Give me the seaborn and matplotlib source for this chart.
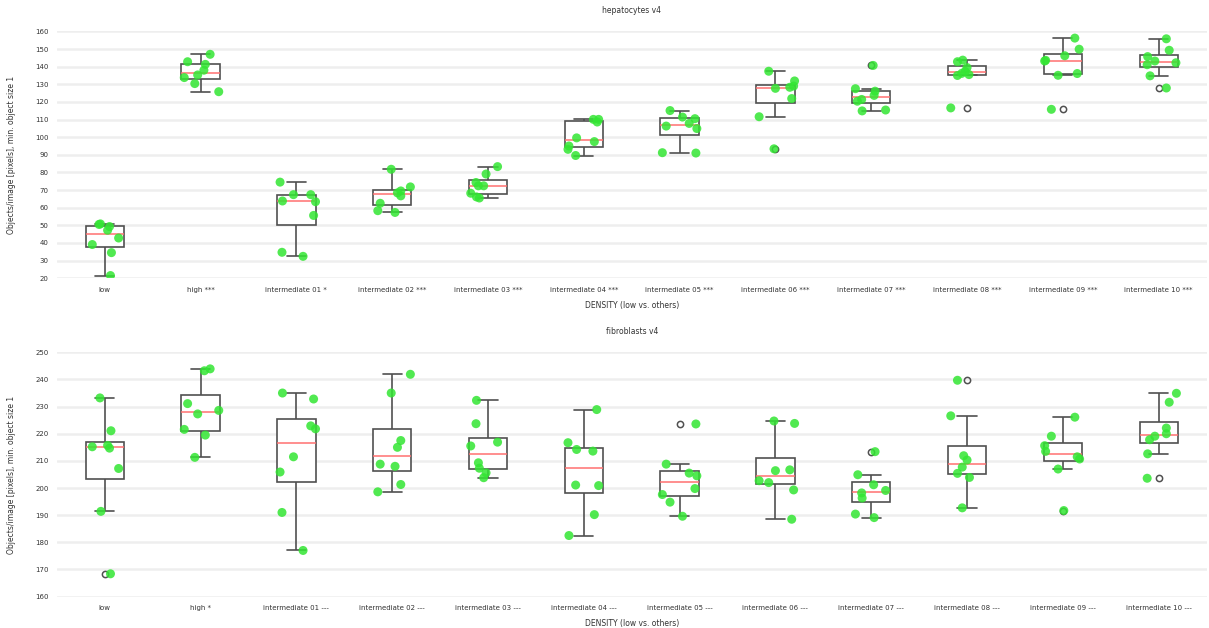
import warnings
warnings.filterwarnings("ignore")

import numpy as np
import pandas as pd
import matplotlib
matplotlib.use("Agg")
import matplotlib.pyplot as plt
import seaborn as sns

# ── Data ──────────────────────────────────────────────────────────────────────
hep_labels = ["low", "high ***", "intermediate 01 *"] + \
    [f"intermediate {i:02d} ***" for i in range(2, 11)]
fib_labels = ["low", "high *"] + [f"intermediate {i:02d} ---" for i in range(1, 11)]

hep_values = [
    [50.8, 50.5, 49.3, 47.2, 42.8, 39.1, 34.5, 21.5],
    [147.0, 142.8, 141.3, 138.0, 135.3, 133.8, 130.4, 125.8],
    [74.5, 67.4, 67.4, 63.8, 63.4, 55.6, 34.7, 32.4],
    [81.8, 71.8, 69.5, 68.4, 66.7, 62.5, 58.3, 57.3],
    [83.3, 79.1, 74.3, 72.4, 72.4, 68.2, 66.1, 65.5],
    [110.1, 110.1, 108.6, 99.6, 97.5, 95.0, 93.1, 89.6],
    [115.1, 111.4, 110.5, 107.8, 106.3, 104.9, 91.2, 91.0],
    [137.4, 131.9, 129.0, 128.3, 127.7, 121.9, 111.6, 93.4],
    [140.7, 127.5, 126.1, 123.7, 121.4, 120.4, 115.4, 114.9],
    [143.7, 142.8, 139.5, 137.3, 136.2, 135.5, 135.0, 116.6],
    [156.2, 149.9, 146.2, 143.6, 143.2, 136.1, 135.1, 115.8],
    [155.8, 149.3, 145.7, 143.2, 142.2, 141.1, 134.8, 127.9],
]
hep_jitter = [
    [-0.045, -0.06, 0.05, 0.03, 0.145, -0.13, 0.07, 0.06],
    [0.10, -0.135, 0.05, 0.035, -0.03, -0.17, -0.06, 0.19],
    [-0.17, -0.03, 0.15, -0.145, 0.20, 0.18, -0.15, 0.07],
    [-0.01, 0.19, 0.09, 0.055, 0.09, -0.125, -0.15, 0.03],
    [0.10, -0.02, -0.125, -0.10, -0.045, -0.18, -0.12, -0.09],
    [0.10, 0.155, 0.14, -0.075, 0.11, -0.155, -0.165, -0.085],
    [-0.10, 0.03, 0.16, 0.10, -0.14, 0.18, -0.18, 0.17],
    [-0.07, 0.20, 0.19, 0.15, 0.0, 0.17, -0.17, -0.015],
    [0.02, -0.165, 0.04, 0.03, -0.10, -0.145, 0.15, -0.095],
    [-0.045, -0.10, 0.0, -0.02, -0.055, 0.02, -0.10, -0.17],
    [0.125, 0.17, 0.02, -0.18, -0.19, 0.15, -0.05, -0.12],
    [0.08, 0.11, -0.115, -0.04, 0.18, -0.12, -0.09, 0.08],
]

fib_values = [
    [233.2, 221.1, 215.7, 215.2, 214.7, 207.2, 191.4, 168.4],
    [243.9, 243.2, 231.1, 228.6, 227.3, 221.6, 219.5, 211.3],
    [235.0, 232.8, 222.9, 221.8, 211.5, 205.9, 191.0, 177.0],
    [241.9, 235.0, 217.5, 215.0, 208.8, 208.0, 201.3, 198.6],
    [232.3, 223.7, 216.9, 215.5, 209.3, 207.3, 205.6, 203.8],
    [228.9, 216.7, 214.2, 213.6, 201.1, 200.9, 190.2, 182.5],
    [223.6, 208.8, 205.5, 204.5, 199.8, 197.6, 194.8, 189.6],
    [224.7, 223.8, 206.7, 206.4, 202.7, 202.0, 199.3, 188.5],
    [213.4, 204.9, 201.2, 199.1, 198.2, 196.3, 190.4, 189.1],
    [239.7, 226.6, 211.9, 210.3, 207.7, 205.4, 203.9, 192.7],
    [226.1, 219.1, 215.6, 213.5, 211.5, 210.7, 207.0, 191.7],
    [234.9, 231.6, 222.1, 220.0, 219.1, 217.8, 212.6, 203.6],
]
fib_jitter = [
    [-0.05, 0.065, 0.03, -0.13, 0.05, 0.145, -0.04, 0.06],
    [0.10, 0.04, -0.135, 0.19, -0.03, -0.17, 0.05, -0.06],
    [-0.145, 0.18, 0.15, 0.20, -0.03, -0.17, -0.15, 0.07],
    [0.19, -0.01, 0.09, 0.055, -0.125, 0.03, 0.09, -0.15],
    [-0.12, -0.125, 0.10, -0.18, -0.10, -0.09, -0.02, -0.045],
    [0.135, -0.165, -0.075, 0.095, -0.085, 0.155, 0.11, -0.155],
    [0.17, -0.14, 0.10, 0.18, 0.16, -0.18, -0.10, 0.03],
    [-0.015, 0.20, 0.15, 0.0, -0.17, -0.07, 0.19, 0.17],
    [0.04, -0.14, 0.025, 0.15, -0.10, -0.095, -0.165, 0.03],
    [-0.10, -0.17, -0.035, 0.0, -0.05, -0.10, 0.025, -0.05],
    [0.125, -0.12, -0.19, -0.18, 0.15, 0.175, -0.05, 0.01],
    [0.185, 0.11, 0.08, 0.08, -0.04, -0.095, -0.115, -0.12],
]

panels = [
    ("hepatocytes v4", hep_labels, hep_values, hep_jitter, (20, 160), 10),
    ("fibroblasts v4", fib_labels, fib_values, fib_jitter, (160, 250), 10),
]

# ── Style ─────────────────────────────────────────────────────────────────────
sns.set_theme(style="white")
plt.rcParams["font.family"] = ["DejaVu Sans"]
TEXT = "#333333"
GREEN = "#33e633"
LINE = "#505050"

fig = plt.figure(figsize=(12.09, 6.28), dpi=100)
axes = [
    fig.add_axes([0.047, 0.557, 0.951, 0.393]),
    fig.add_axes([0.047, 0.050, 0.951, 0.389]),
]

for ax, (title, labels, values, jitter, ylim, step) in zip(axes, panels):
    rows = []
    for i, (lab, vals, jit) in enumerate(zip(labels, values, jitter)):
        for v, j in zip(vals, jit):
            rows.append({"group": lab, "value": v, "pos": i + j})
    df = pd.DataFrame(rows)

    sns.boxplot(
        data=df, x="group", y="value", order=labels, ax=ax,
        width=0.4, color="white", saturation=1, linecolor=LINE, linewidth=1.2,
        medianprops=dict(color="#ff7070", linewidth=1.1),
        flierprops=dict(marker="o", markerfacecolor="none",
                        markeredgecolor=LINE, markersize=4.5, markeredgewidth=1.1),
    )
    sns.scatterplot(
        data=df, x="pos", y="value", ax=ax, color=GREEN, alpha=0.85,
        s=42, edgecolor="none", legend=False, zorder=5,
    )

    ax.set_xlim(-0.5, len(labels) - 0.5)
    ax.set_ylim(*ylim)
    ax.set_xticks(range(len(labels)))
    ax.set_xticklabels(labels)
    ax.set_yticks(np.arange(ylim[0], ylim[1] + 1, step))
    ax.yaxis.grid(True, color="#eeeeee", linewidth=1.8)
    ax.set_axisbelow(True)
    for s in ax.spines.values():
        s.set_visible(False)
    ax.tick_params(axis="both", length=0, labelsize=5, colors=TEXT, pad=6)
    ax.set_title(title, fontsize=5.5, color=TEXT, pad=13)
    ax.set_xlabel("DENSITY (low vs. others)", fontsize=5.5, color=TEXT, labelpad=6)
    ax.set_ylabel("Objects/image [pixels], min. object size 1", fontsize=5.5,
                  color=TEXT, labelpad=14)

fig.savefig("out.png", dpi=100, facecolor="white")
